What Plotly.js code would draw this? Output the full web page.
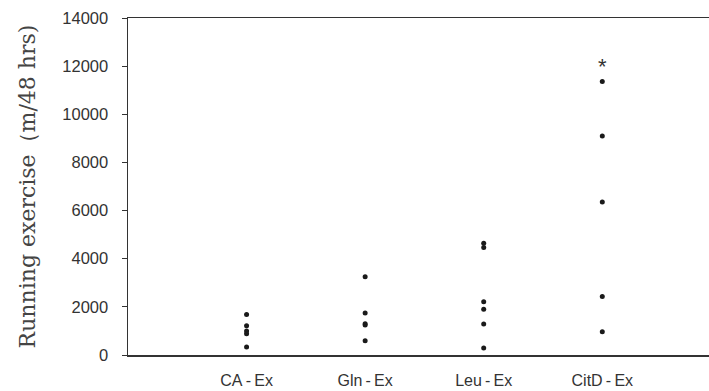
<!DOCTYPE html>
<html><head><meta charset="utf-8">
<script src="https://cdn.plot.ly/plotly-3.0.1.min.js"></script>
<style>html,body{margin:0;padding:0;background:#fff}</style>
</head><body><div id="chart" style="width:709px;height:391px"></div>
<script>
const categories = ["CA\u2009-\u2009Ex", "Gln\u2009-\u2009Ex", "Leu\u2009-\u2009Ex", "CitD\u2009-\u2009Ex"];
const caEx = [1680, 1210, 1000, 880, 330];
const glnEx = [3250, 1740, 1300, 1250, 590];
const leuEx = [4640, 4470, 2210, 1900, 1290, 290];
const citdEx = [11360, 9100, 6360, 2430, 970];
const yTicks = [0, 2000, 4000, 6000, 8000, 10000, 12000, 14000];
const sigLabel = "*";
const sigValue = 12000;

const groups = [caEx, glnEx, leuEx, citdEx];
const xs = [], ys = [];
groups.forEach((g, i) => g.forEach(v => { xs.push(i); ys.push(v); }));

const trace = {
  x: xs, y: ys, type: 'scatter', mode: 'markers',
  marker: {color: '#1a1a1a', size: 5}, hoverinfo: 'skip', showlegend: false
};
const layout = {
  width: 709, height: 391,
  margin: {l: 128, r: 0, t: 18, b: 36},
  paper_bgcolor: '#fff', plot_bgcolor: '#fff',
  font: {family: 'Arial, "Liberation Sans", sans-serif', color: '#333'},
  xaxis: {
    range: [-1, 3.9], tickmode: 'array', tickvals: [0, 1, 2, 3], ticktext: categories,
    showgrid: false, zeroline: false, showline: true, linecolor: '#333', linewidth: 1.5,
    mirror: true, ticks: '', tickfont: {size: 16, color: '#333'}, ticklabelstandoff: 10
  },
  yaxis: {
    range: [0, 14000], tickmode: 'array', tickvals: yTicks, ticktext: yTicks.map(String),
    showgrid: false, zeroline: false, showline: true, linecolor: '#333', linewidth: 1.5,
    ticks: 'outside', ticklen: 5, tickcolor: '#333', tickwidth: 1,
    tickfont: {size: 16.5, color: '#333'}, ticklabelstandoff: 10,
    title: {text: 'Running exercise（m/48 hrs)', font: {family: '"DejaVu Serif", "Liberation Serif", serif', size: 22, color: '#444'}, standoff: 20}
  },
  annotations: [{x: 3, y: sigValue, xref: 'x', yref: 'y', text: sigLabel, showarrow: false, font: {size: 22, color: '#333'}}]
};
Plotly.newPlot('chart', [trace], layout, {displayModeBar: false, staticPlot: true});
</script></body></html>
